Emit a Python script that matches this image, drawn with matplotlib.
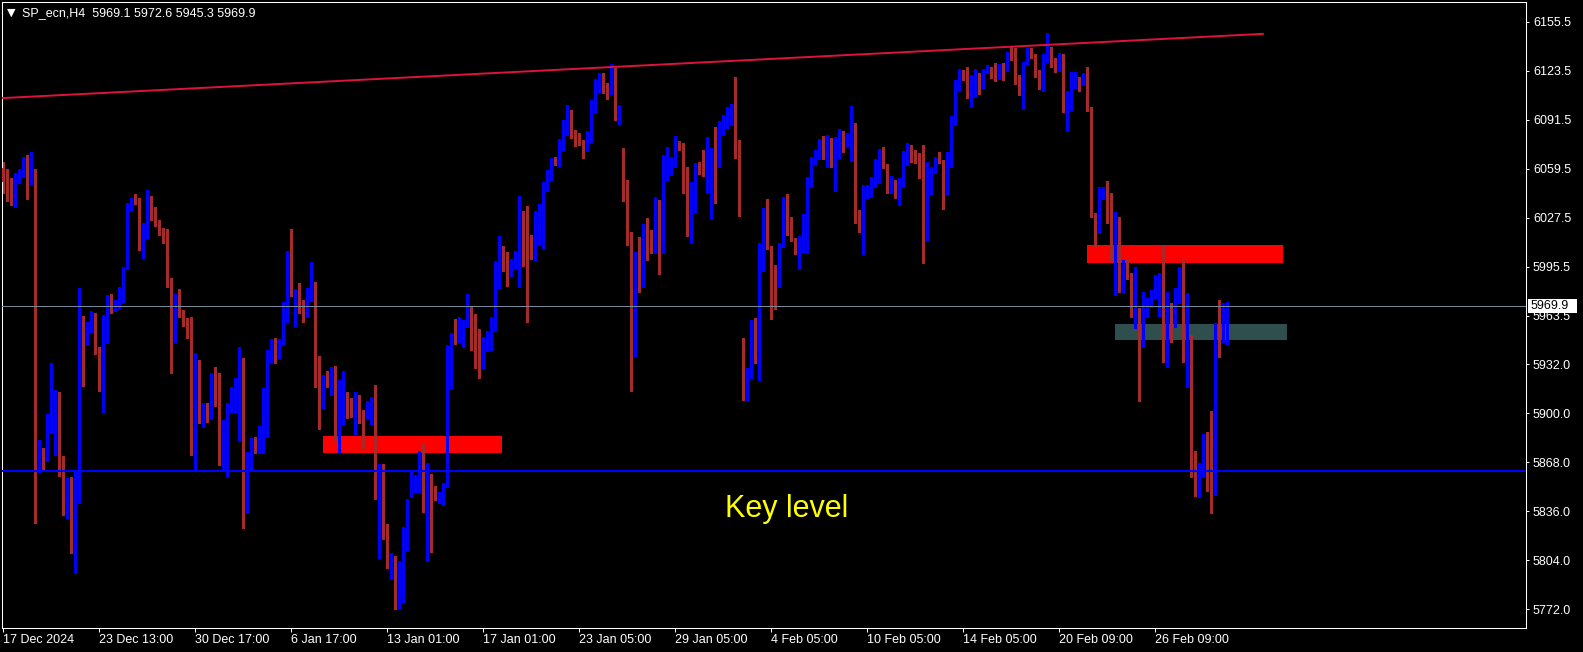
import matplotlib
matplotlib.use("Agg")
import matplotlib.pyplot as plt
import matplotlib.transforms as mtransforms
from matplotlib.patches import Rectangle

# SP_ecn H4 bars, oldest first
opens = [
    6059.8, 6051.5, 6050.5, 6043.5, 6055.5, 6057.6, 6065.9, 6050.0, 6058.7, 5868.8,
    5871.6, 5870.1, 5888.4, 5907.5, 5913.0, 5872.0, 5842.2, 5856.4, 5818.1, 5846.1,
    5944.5, 5949.3, 5957.1, 5964.7, 5939.9, 5926.4, 5961.2, 5972.4, 5970.6, 5972.1,
    5979.7, 5994.1, 6036.5, 6038.0, 6037.8, 6010.9, 6019.1, 6033.7, 6029.8, 6023.9,
    6020.0, 6014.8, 5986.3, 5959.1, 5977.8, 5966.7, 5960.2, 5959.5, 5872.9, 5933.0,
    5898.8, 5906.0, 5898.1, 5923.6, 5920.3, 5872.7, 5893.4, 5902.9, 5914.7, 5920.0,
    5923.2, 5839.6, 5870.1, 5881.2, 5878.6, 5879.2, 5899.9, 5934.0, 5947.8, 5938.0,
    5946.7, 5966.9, 6001.7, 5978.2, 5980.8, 5970.6, 5963.6, 5981.0, 5984.9, 5931.3,
    5908.0, 5922.5, 5919.5, 5929.7, 5894.6, 5900.1, 5910.3, 5908.7, 5905.2, 5911.5,
    5899.9, 5897.1, 5897.1, 5906.4, 5849.7, 5866.4, 5819.3, 5803.1, 5803.6, 5777.0,
    5799.0, 5821.6, 5850.2, 5850.9, 5854.4, 5867.1, 5843.3, 5856.7, 5851.6, 5844.7,
    5845.6, 5852.5, 5941.5, 5947.9, 5948.6, 5951.4, 5957.2, 5968.0, 5942.6, 5934.8,
    5930.6, 5942.6, 5948.7, 5958.3, 5984.2, 6008.0, 6003.4, 5990.7, 5998.8, 6001.1,
    6032.3, 6027.0, 6004.1, 6002.7, 6020.2, 6026.5, 6047.7, 6057.0, 6064.6, 6062.8,
    6076.1, 6085.9, 6091.6, 6082.6, 6079.4, 6078.0, 6071.5, 6082.6, 6098.8, 6110.8,
    6120.0, 6112.4, 6109.6, 6124.2, 6094.2, 6072.9, 6045.7, 6014.8, 5940.2, 6003.9,
    5985.2, 6023.5, 6011.5, 6008.3, 6036.5, 6006.5, 6057.6, 6057.6, 6064.2, 6077.2,
    6072.9, 6052.9, 6034.8, 6041.3, 6059.8, 6058.7, 6057.0, 6068.9, 6070.7, 6074.0,
    6082.7, 6088.1, 6094.2, 6100.1, 6072.4, 5937.3, 5919.1, 5924.3, 5952.1, 5936.9,
    6006.1, 6039.1, 6008.7, 5992.4, 5984.3, 6008.7, 6026.5, 6017.4, 6013.5, 6005.4,
    6006.1, 6019.6, 6048.3, 6063.1, 6069.2, 6075.1, 6070.0, 6071.8, 6070.0, 6067.0,
    6083.8, 6077.2, 6080.5, 6088.8, 6030.4, 6006.1, 6041.3, 6043.9, 6052.9, 6054.0,
    6069.2, 6061.3, 6047.4, 6049.6, 6043.5, 6050.0, 6063.5, 6071.4, 6070.7, 6065.9,
    6064.6, 6029.3, 6050.5, 6058.3, 6064.2, 6064.2, 6052.6, 6066.3, 6088.1, 6112.0,
    6122.9, 6120.1, 6107.0, 6118.5, 6120.1, 6117.9, 6122.9, 6125.7, 6125.1, 6119.6,
    6126.6, 6125.7, 6135.3, 6133.1, 6116.4, 6111.4, 6130.5, 6137.5, 6133.8, 6122.9,
    6114.2, 6131.0, 6138.1, 6131.0, 6125.7, 6133.1, 6097.9, 6099.6, 6115.3, 6118.5,
    6117.9, 6122.2, 6099.0, 6030.4, 6022.2, 6040.9, 6044.6, 6043.5, 6000.4, 6020.0,
    5992.4, 5998.2, 5990.2, 5964.1, 5966.3, 5958.6, 5970.6, 5971.7, 5978.2, 5984.7,
    5990.2, 5937.3, 5966.3, 5961.3, 5979.3, 5991.7, 5936.5, 5949.9, 5872.7, 5856.0,
    5862.5, 5882.9, 5871.6, 5846.6, 5958.6, 5953.2, 5969.1,
]
highs = [
    6064.2, 6059.4, 6053.7, 6056.5, 6059.4, 6067.4, 6068.5, 6070.5, 6059.2, 5882.5,
    5877.0, 5899.5, 5932.5, 5915.1, 5913.6, 5872.0, 5857.5, 5858.1, 5861.8, 5981.9,
    5963.4, 5959.7, 5966.7, 5965.2, 5943.4, 5964.1, 5977.1, 5977.8, 5973.9, 5982.1,
    5995.6, 6037.0, 6040.2, 6043.1, 6040.2, 6023.9, 6045.7, 6041.7, 6034.8, 6026.1,
    6020.6, 6020.0, 5988.0, 5977.8, 5981.0, 5967.3, 5961.9, 5963.0, 5939.1, 5934.7,
    5906.4, 5906.8, 5926.4, 5930.3, 5926.4, 5895.5, 5906.4, 5916.9, 5922.7, 5943.4,
    5936.2, 5874.9, 5884.0, 5884.7, 5891.6, 5916.6, 5941.2, 5948.4, 5949.3, 5948.2,
    5972.8, 6005.8, 6020.2, 5981.0, 5984.7, 5973.9, 5981.9, 5998.8, 5985.5, 5937.5,
    5924.8, 5927.6, 5930.2, 5930.6, 5921.8, 5927.6, 5914.0, 5909.8, 5914.0, 5911.7,
    5902.2, 5908.0, 5910.3, 5918.6, 5867.1, 5867.1, 5827.8, 5808.6, 5807.0, 5803.6,
    5825.5, 5844.0, 5861.3, 5859.5, 5875.2, 5879.8, 5867.8, 5860.2, 5852.5, 5848.6,
    5854.4, 5944.5, 5952.6, 5961.8, 5963.0, 5961.1, 5978.0, 5969.4, 5964.8, 5954.9,
    5949.8, 5953.7, 5963.0, 5999.5, 6015.6, 6009.2, 6005.0, 6000.9, 6005.7, 6042.0,
    6032.3, 6035.0, 6016.1, 6031.8, 6036.4, 6051.2, 6058.8, 6066.9, 6067.4, 6078.9,
    6091.2, 6100.9, 6098.1, 6084.9, 6082.6, 6078.5, 6084.2, 6104.3, 6118.2, 6121.9,
    6121.9, 6115.4, 6128.1, 6125.1, 6101.2, 6072.9, 6052.2, 6018.5, 6005.4, 6015.2,
    6023.5, 6027.2, 6019.6, 6041.3, 6039.1, 6068.5, 6073.5, 6067.0, 6080.9, 6077.9,
    6076.1, 6060.5, 6051.1, 6063.1, 6064.2, 6071.8, 6080.5, 6072.9, 6087.0, 6090.9,
    6094.6, 6099.6, 6101.8, 6119.6, 6078.3, 5948.9, 5929.3, 5960.8, 5961.9, 6010.9,
    6033.7, 6039.6, 6009.1, 5996.7, 6010.9, 6041.3, 6043.1, 6028.3, 6014.1, 6015.6,
    6030.0, 6053.9, 6067.0, 6071.8, 6078.7, 6080.9, 6081.6, 6079.4, 6080.5, 6085.3,
    6084.4, 6083.1, 6100.5, 6089.2, 6032.6, 6048.9, 6048.9, 6054.0, 6065.7, 6072.4,
    6074.0, 6062.6, 6054.8, 6052.2, 6053.3, 6071.4, 6076.1, 6075.1, 6071.8, 6069.6,
    6075.0, 6064.2, 6060.9, 6067.4, 6070.7, 6065.2, 6070.7, 6094.0, 6117.5, 6124.4,
    6124.0, 6126.2, 6120.7, 6124.4, 6121.8, 6124.4, 6127.3, 6126.2, 6128.3, 6127.9,
    6128.3, 6136.0, 6138.8, 6138.1, 6120.7, 6129.4, 6138.1, 6138.1, 6134.4, 6124.0,
    6134.4, 6147.9, 6139.2, 6131.6, 6135.3, 6134.4, 6110.5, 6122.9, 6122.9, 6119.6,
    6122.2, 6126.2, 6100.1, 6030.9, 6047.9, 6047.9, 6051.8, 6043.9, 6031.5, 6028.3,
    6000.0, 6000.0, 5991.3, 5995.2, 5968.4, 5979.3, 5975.0, 5980.4, 5990.2, 5991.7,
    6009.8, 5979.3, 5971.7, 5981.5, 5995.2, 6000.4, 5978.2, 5951.0, 5875.5, 5867.3,
    5886.4, 5887.9, 5901.6, 5959.1, 5973.9, 5971.7, 5972.6,
]
lows = [
    6043.5, 6038.7, 6035.9, 6034.8, 6050.5, 6053.9, 6039.8, 6049.6, 5828.5, 5861.8,
    5863.6, 5869.0, 5886.8, 5872.7, 5859.0, 5833.5, 5831.8, 5809.0, 5795.9, 5841.1,
    5917.7, 5944.5, 5953.2, 5938.4, 5914.7, 5901.0, 5946.0, 5965.2, 5966.7, 5968.4,
    5972.8, 5993.9, 6032.6, 6036.5, 6006.5, 6001.1, 6014.1, 6026.1, 6022.2, 6016.3,
    6010.9, 5982.6, 5926.4, 5946.7, 5963.0, 5956.9, 5949.3, 5872.9, 5863.6, 5893.8,
    5890.8, 5894.5, 5896.6, 5904.7, 5866.2, 5863.3, 5858.6, 5901.0, 5901.0, 5882.1,
    5825.3, 5834.6, 5862.9, 5873.8, 5874.2, 5873.8, 5884.7, 5932.5, 5933.0, 5935.8,
    5944.5, 5959.7, 5976.5, 5957.1, 5965.2, 5959.7, 5963.0, 5973.4, 5916.8, 5889.5,
    5903.4, 5916.8, 5912.1, 5882.1, 5874.0, 5892.5, 5897.1, 5897.8, 5886.7, 5893.7,
    5877.0, 5896.0, 5893.2, 5844.0, 5805.4, 5817.9, 5798.9, 5792.0, 5772.4, 5772.4,
    5777.0, 5811.0, 5845.1, 5848.6, 5848.6, 5835.5, 5803.6, 5809.3, 5843.3, 5841.7,
    5840.1, 5851.6, 5915.6, 5944.9, 5946.8, 5943.4, 5956.0, 5941.0, 5929.5, 5923.2,
    5929.5, 5940.3, 5941.0, 5953.7, 5981.4, 5992.5, 5983.3, 5989.5, 5994.8, 5982.6,
    5995.8, 5959.5, 6000.4, 6000.0, 6009.6, 6008.0, 6045.0, 6051.9, 6061.8, 6061.1,
    6072.0, 6081.9, 6079.6, 6074.3, 6075.0, 6066.4, 6071.1, 6077.3, 6095.8, 6109.6,
    6109.0, 6105.0, 6108.5, 6091.6, 6088.5, 6038.7, 6009.8, 5914.7, 5937.3, 5979.3,
    5982.1, 6000.0, 6004.3, 6004.8, 5990.8, 6004.8, 6052.2, 6055.5, 6060.9, 6071.8,
    6043.9, 6015.6, 6011.3, 6031.5, 6056.1, 6054.8, 6043.5, 6026.5, 6037.4, 6060.9,
    6081.6, 6085.9, 6088.1, 6066.3, 6028.7, 5908.6, 5908.6, 5922.7, 5932.5, 5921.7,
    5993.0, 6006.9, 5961.3, 5967.8, 5982.1, 6008.3, 6016.3, 6012.6, 6003.9, 5993.9,
    6005.4, 6004.8, 6047.4, 6062.0, 6065.7, 6065.7, 6060.9, 6060.9, 6045.2, 6066.3,
    6070.7, 6074.0, 6064.8, 6024.4, 6018.5, 6003.9, 6040.2, 6040.9, 6047.9, 6050.0,
    6059.8, 6043.9, 6043.9, 6040.2, 6035.9, 6047.9, 6062.0, 6064.2, 6063.5, 6053.3,
    5998.2, 6013.0, 6043.1, 6056.5, 6063.1, 6033.0, 6043.1, 6060.9, 6088.1, 6110.5,
    6117.5, 6105.5, 6100.1, 6106.2, 6108.3, 6112.0, 6121.8, 6119.0, 6117.0, 6117.9,
    6117.5, 6123.6, 6130.5, 6114.9, 6107.7, 6098.3, 6127.3, 6131.6, 6119.6, 6111.4,
    6110.5, 6129.4, 6125.7, 6122.9, 6123.6, 6096.8, 6084.4, 6097.9, 6112.0, 6110.5,
    6114.2, 6097.5, 6028.3, 6008.7, 6017.8, 6039.6, 6024.4, 5999.9, 5977.1, 5979.3,
    5979.3, 5987.3, 5962.6, 5955.4, 5908.2, 5943.0, 5962.6, 5969.1, 5975.0, 5963.4,
    5933.6, 5930.4, 5946.7, 5956.5, 5972.1, 5933.6, 5916.9, 5858.1, 5845.9, 5845.1,
    5858.6, 5849.4, 5835.1, 5846.6, 5936.9, 5946.7, 5945.3,
]
closes = [
    6051.1, 6048.9, 6046.3, 6056.1, 6057.6, 6065.9, 6051.1, 6058.7, 5860.1, 5871.0,
    5870.1, 5889.0, 5908.6, 5913.6, 5870.1, 5841.6, 5856.4, 5818.1, 5841.2, 5944.5,
    5925.6, 5957.5, 5964.1, 5939.1, 5927.1, 5961.2, 5970.2, 5970.6, 5972.4, 5979.7,
    5994.8, 6035.9, 6038.0, 6037.0, 6011.3, 6020.0, 6033.7, 6028.7, 6024.3, 6019.6,
    6014.6, 5985.8, 5959.1, 5973.9, 5966.3, 5960.4, 5958.6, 5872.9, 5933.0, 5898.8,
    5906.0, 5897.7, 5923.6, 5919.9, 5872.7, 5884.7, 5904.2, 5915.6, 5920.3, 5923.2,
    5839.6, 5870.1, 5880.3, 5879.2, 5880.1, 5899.9, 5935.4, 5936.9, 5938.0, 5947.8,
    5967.3, 6001.7, 5977.1, 5980.4, 5969.5, 5963.6, 5980.8, 5984.9, 5931.1, 5908.7,
    5921.8, 5919.5, 5929.7, 5894.6, 5900.1, 5911.7, 5908.0, 5904.7, 5911.0, 5901.1,
    5897.1, 5897.8, 5906.4, 5850.2, 5865.9, 5820.2, 5803.6, 5804.0, 5777.0, 5799.0,
    5822.1, 5842.8, 5851.6, 5854.9, 5867.1, 5842.8, 5856.7, 5852.1, 5844.0, 5846.3,
    5853.2, 5941.5, 5947.9, 5946.3, 5952.6, 5957.9, 5968.0, 5941.7, 5934.1, 5930.6,
    5943.3, 5949.1, 5958.8, 5984.2, 6007.3, 5994.1, 5990.2, 5998.8, 6001.5, 6032.3,
    6020.0, 6003.4, 6003.4, 6020.7, 6027.2, 6048.0, 6056.5, 6064.1, 6063.2, 6076.1,
    6086.5, 6092.3, 6083.5, 6078.9, 6076.8, 6071.5, 6083.5, 6099.3, 6113.6, 6120.5,
    6111.9, 6109.6, 6123.5, 6094.6, 6098.3, 6045.2, 6014.6, 5939.5, 6004.3, 5985.2,
    6018.0, 6012.0, 6008.7, 6036.5, 6007.2, 6058.1, 6059.4, 6064.2, 6077.2, 6072.4,
    6051.8, 6034.8, 6045.7, 6059.8, 6058.3, 6057.0, 6069.2, 6070.0, 6062.0, 6083.8,
    6088.8, 6094.6, 6100.5, 6072.4, 6034.4, 5919.1, 5924.3, 5951.7, 5938.0, 6006.9,
    6028.3, 6007.6, 5992.4, 5984.3, 6009.1, 6026.5, 6018.9, 6013.0, 6005.4, 6006.5,
    6020.0, 6048.9, 6065.3, 6069.2, 6075.1, 6069.6, 6071.8, 6070.7, 6071.4, 6083.8,
    6077.2, 6081.1, 6097.2, 6030.4, 6027.2, 6041.8, 6043.5, 6052.9, 6054.0, 6069.2,
    6064.8, 6046.8, 6050.0, 6043.5, 6051.1, 6064.2, 6068.5, 6069.6, 6065.7, 6064.2,
    6030.0, 6051.1, 6059.2, 6064.2, 6063.1, 6052.6, 6066.8, 6090.3, 6112.0, 6122.9,
    6119.6, 6107.0, 6119.0, 6120.7, 6112.7, 6122.9, 6125.7, 6124.6, 6119.6, 6125.7,
    6125.5, 6134.9, 6132.7, 6116.4, 6111.4, 6125.1, 6137.5, 6133.1, 6121.8, 6114.2,
    6131.0, 6136.6, 6131.0, 6125.7, 6133.8, 6097.9, 6100.5, 6115.3, 6119.2, 6117.9,
    6121.8, 6097.9, 6029.3, 6012.6, 6041.3, 6043.9, 6042.4, 6000.0, 6020.0, 5989.1,
    5998.2, 5989.5, 5964.1, 5966.3, 5959.7, 5964.1, 5972.1, 5979.3, 5985.8, 5990.2,
    5938.0, 5974.3, 5960.8, 5980.0, 5991.7, 5936.5, 5949.9, 5866.8, 5856.0, 5863.3,
    5882.9, 5871.6, 5846.6, 5946.7, 5953.2, 5969.5, 5969.9,
]

price_ticks = [6155.5, 6123.5, 6091.5, 6059.5, 6027.5, 5995.5, 5963.5,
               5932.0, 5900.0, 5868.0, 5836.0, 5804.0, 5772.0]
date_ticks = [0, 24, 48, 72, 96, 120, 144, 168, 192, 216, 240, 264, 288]
date_labels = ["17 Dec 2024", "23 Dec 13:00", "30 Dec 17:00", "6 Jan 17:00",
               "13 Jan 01:00", "17 Jan 01:00", "23 Jan 05:00", "29 Jan 05:00",
               "4 Feb 05:00", "10 Feb 05:00", "14 Feb 05:00", "20 Feb 09:00",
               "26 Feb 09:00"]

last_price = 5969.9
key_level = 5862.0
trend_x = [-0.1, 314.9]
trend_y = [6105.7, 6147.6]
# zones: bar from, bar to, price low, price high, colour
zone_x0 = [79.9, 270.9, 277.9]
zone_x1 = [124.8, 319.9, 320.9]
zone_lo = [5873.8, 5998.0, 5947.8]
zone_hi = [5885.2, 6009.8, 5958.2]
zone_col = ["#FF0000", "#FF0000", "#2F4F4F"]

plt.rcParams["font.family"] = ["Liberation Sans", "DejaVu Sans"]

W, H = 1583, 652
fig = plt.figure(figsize=(W / 100, H / 100), dpi=100, facecolor="black")
ax = fig.add_axes([2 / W, 24 / H, 1524 / W, 626 / H])
ax.set_facecolor("black")

# zones in the background
for x0, x1, lo, hi, c in zip(zone_x0, zone_x1, zone_lo, zone_hi, zone_col):
    ax.add_patch(Rectangle((x0, lo), x1 - x0, hi - lo, facecolor=c,
                           edgecolor="none", zorder=1))

# candles
idx = list(range(len(opens)))
cols = ["#0000FF" if c >= o else "#A52A2A" for o, c in zip(opens, closes)]
ax.vlines(idx, lows, highs, colors=cols, linewidth=0.75, antialiased=False, zorder=2)
body_h = [max(abs(c - o), 0.7) for o, c in zip(opens, closes)]
body_b = [min(o, c) for o, c in zip(opens, closes)]
ax.bar(idx, body_h, bottom=body_b, width=0.75, color=cols, linewidth=0,
       antialiased=False, zorder=3)

# lines
ax.plot(trend_x, trend_y, color="#DC143C", linewidth=1.4, zorder=4)
ax.axhline(last_price, color="#778899", linewidth=0.75, zorder=4)
ax.axhline(key_level, color="#0000FF", linewidth=1.5, zorder=4)

ax.text(180.4, 5832.3, "Key level", color="#FFFF00", fontsize=22,
        ha="left", va="baseline", zorder=5)

ax.set_xlim(-0.33, 380.7)
ax.set_ylim(5759.8, 6168.4)

ax.yaxis.tick_right()
ax.set_yticks(price_ticks)
ax.set_yticklabels([f"{p:.1f}" for p in price_ticks])
ax.set_xticks(date_ticks)
ax.set_xticklabels(date_labels)
for lbl in ax.get_xticklabels():
    lbl.set_ha("left")
ax.tick_params(axis="y", colors="white", direction="out", length=2.2,
               width=0.72, pad=2.8, labelsize=9)
ax.tick_params(axis="x", colors="white", direction="out", length=2.9,
               width=0.72, pad=1.5, labelsize=9)
for sp in ax.spines.values():
    sp.set_color("white")
    sp.set_linewidth(0.75)

# current price box on the price scale
tr = mtransforms.blended_transform_factory(ax.transAxes, ax.transData)
ax.add_patch(Rectangle((1.0013, last_price - 4.6), 0.032, 9.2, transform=tr,
                       facecolor="white", edgecolor="none", clip_on=False, zorder=6))
ax.text(1.0032, last_price, f"{last_price:.1f}", transform=tr, color="black",
        fontsize=9, ha="left", va="center", clip_on=False, zorder=7)

# header
fig.text(7 / W, 1 - 13 / H, "\u25BC", color="white", fontsize=8,
         family=["DejaVu Sans"], va="center", ha="left")
fig.text(22 / W, 1 - 13 / H, "SP_ecn,H4  5969.1 5972.6 5945.3 5969.9",
         color="white", fontsize=9, va="center", ha="left")

fig.savefig("out.png", dpi=100, facecolor="black")
